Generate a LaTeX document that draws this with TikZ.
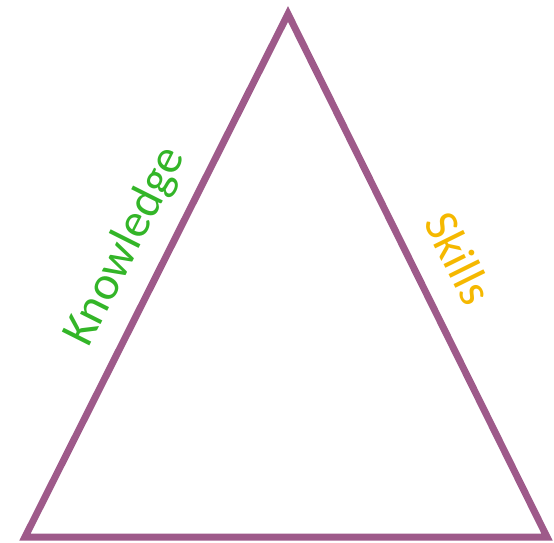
\documentclass[tikz,border=0pt]{standalone}
\usepackage{fontspec}
\setmainfont{Carlito}
\usepackage{xcolor}
\definecolor{cEdge}{HTML}{9E5A8A}
\definecolor{cKnow}{HTML}{33B528}
\definecolor{cSkill}{HTML}{F5B800}
\usetikzlibrary{positioning}
\tikzset{
  edge-line/.style={draw=cEdge,line width=7pt,line join=miter},
  side-label/.style={font=\fontsize{48}{48}\selectfont,sloped,inner sep=0pt},
}

\begin{document}
\begin{tikzpicture}[x=1pt,y=-1pt]
  \useasboundingbox (0,0) rectangle (554,543);
  \coordinate (apex) at (288,14);
  \coordinate (bl) at (25,537);
  \coordinate (br) at (547,537);
  \draw[edge-line] (bl) -- (apex) -- (br) -- cycle;
  \path (bl) -- node[side-label,pos=0.52,above=19pt,text=cKnow] (know) {Knowledge} (apex);
  \path (apex) -- node[side-label,pos=0.505,above=28pt,text=cSkill] (skill) {Skills} (br);
\end{tikzpicture}
\end{document}
